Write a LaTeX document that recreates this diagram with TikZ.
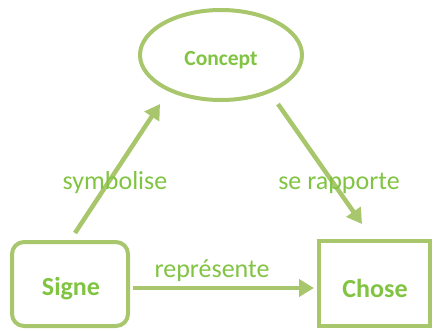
\documentclass[tikz,border=0pt]{standalone}
\usepackage{fontspec}
\setmainfont{Carlito}
\usetikzlibrary{arrows.meta,shapes.geometric}
\definecolor{linegreen}{RGB}{168,198,108}
\definecolor{textgreen}{RGB}{128,196,66}
\tikzset{
  frame/.style={draw=linegreen, line width=4pt, fill=white, inner sep=0pt},
  link/.style={draw=linegreen, line width=4.5pt,
    -{Triangle[length=15pt,width=17pt]}},
  lettering/.style={text=textgreen, font=\fontsize{26}{28}\selectfont, inner sep=0pt},
  heavy/.style={text=textgreen, font=\bfseries\fontsize{26}{28}\selectfont, inner sep=0pt},
}
\begin{document}
\begin{tikzpicture}[x=1pt,y=-1pt]
\useasboundingbox (0,0) rectangle (433,330);

% the three corners of the triangle
\node[frame, ellipse, minimum width=162pt, minimum height=90pt] (concept) at (221,55) {};
\node[frame, rounded corners=12pt, minimum width=116pt, minimum height=84pt] (signe) at (70,284) {};
\node[frame, minimum width=111pt, minimum height=85pt] (chose) at (374.5,283.5) {};

\node[heavy, font=\bfseries\fontsize{21.5}{24}\selectfont] (tconcept) at (221,60) {Concept};
\node[heavy] (tsigne) at (71,289) {Signe};
\node[heavy] (tchose) at (375,288) {Chose};

% relations between the corners
\coordinate (s0) at (75,233);
\coordinate (s1) at (160,104);
\coordinate (c0) at (278,104);
\coordinate (c1) at (362,224);
\coordinate (r0) at (133,288);
\coordinate (r1) at (314,288);
\draw[link] (s0) -- (s1);
\draw[link] (c0) -- (c1);
\draw[link] (r0) -- (r1);

\node[lettering] (lsym) at (115,183) {symbolise};
\node[lettering] (lrap) at (339,183) {se rapporte};
\node[lettering] (lrep) at (212,271) {représente};
\end{tikzpicture}
\end{document}
